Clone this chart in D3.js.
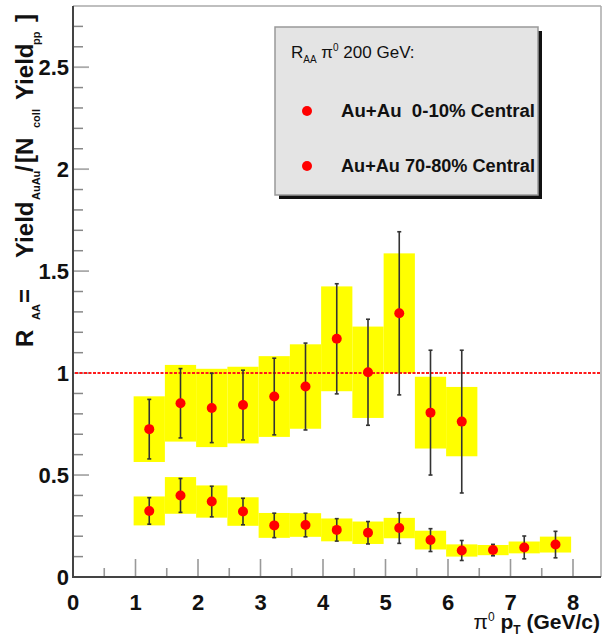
<!DOCTYPE html>
<html>
<head>
<meta charset="utf-8">
<script src="https://cdn.jsdelivr.net/npm/d3@7"></script>
<style>
  html, body { margin: 0; padding: 0; background: #fff; }
  svg { display: block; }
  text { font-family: "Liberation Sans", Arial, Helvetica, sans-serif; white-space: pre; }
</style>
</head>
<body>
<svg id="chart" width="603" height="639"></svg>
<script>
// pi0 nuclear modification factor, Au+Au at 200 GeV
const ptCentral   = [1.22, 1.72, 2.22, 2.72, 3.22, 3.72, 4.22, 4.72, 5.22, 5.72, 6.22];
const raaCentral  = [0.725, 0.852, 0.829, 0.843, 0.885, 0.934, 1.168, 1.004, 1.293, 0.806, 0.762];
const statCentral = [0.146, 0.170, 0.170, 0.171, 0.188, 0.213, 0.270, 0.260, 0.400, 0.306, 0.350];
const sysCentral  = [0.161, 0.188, 0.192, 0.188, 0.198, 0.207, 0.257, 0.224, 0.294, 0.176, 0.170];

const ptPeripheral   = [1.22, 1.72, 2.22, 2.72, 3.22, 3.72, 4.22, 4.72, 5.22, 5.72, 6.22, 6.72, 7.22, 7.72];
const raaPeripheral  = [0.324, 0.400, 0.370, 0.321, 0.253, 0.255, 0.231, 0.217, 0.240, 0.181, 0.130, 0.132, 0.145, 0.159];
const statPeripheral = [0.065, 0.083, 0.075, 0.065, 0.060, 0.058, 0.055, 0.055, 0.075, 0.056, 0.049, 0.028, 0.056, 0.065];
const sysPeripheral  = [0.071, 0.090, 0.079, 0.070, 0.061, 0.058, 0.056, 0.055, 0.050, 0.046, 0.030, 0.025, 0.029, 0.039];

const binWidth = 0.5;

const xTickValues = [0, 1, 2, 3, 4, 5, 6, 7, 8];
const yTickValues = [0, 0.5, 1, 1.5, 2, 2.5];
const legendEntries = ["Au+Au  0-10% Central", "Au+Au 70-80% Central"];

const svg = d3.select("#chart");

const x = d3.scaleLinear().domain([0, 8]).range([73, 573]);
const y = d3.scaleLinear().domain([0, 2.8]).range([577, 6]);
const frameRight = 601;

// frame: light top/right edges
svg.append("line").attr("x1", x(0)).attr("x2", frameRight).attr("y1", y(2.8)).attr("y2", y(2.8))
  .attr("stroke", "#aaa").attr("stroke-width", 1.5);
svg.append("line").attr("x1", frameRight).attr("x2", frameRight).attr("y1", y(2.8)).attr("y2", y(0))
  .attr("stroke", "#aaa").attr("stroke-width", 1.5);

const series = [
  { pt: ptCentral, raa: raaCentral, stat: statCentral, sys: sysCentral },
  { pt: ptPeripheral, raa: raaPeripheral, stat: statPeripheral, sys: sysPeripheral }
];

// systematic uncertainty boxes
series.forEach(s => {
  svg.append("g").selectAll("rect").data(s.pt).join("rect")
    .attr("x", (d) => x(d - binWidth / 2))
    .attr("width", (d) => x(d + binWidth / 2) - x(d - binWidth / 2))
    .attr("y", (d, i) => y(s.raa[i] + s.sys[i]))
    .attr("height", (d, i) => y(s.raa[i] - s.sys[i]) - y(s.raa[i] + s.sys[i]))
    .attr("fill", "#ffff00");
});

// axes ticks
const xAxis = svg.append("g");
const xMinor = d3.range(0, 8.01, 0.5).filter(v => !xTickValues.includes(v));
xAxis.selectAll("line.major").data(xTickValues).join("line").attr("class", "major")
  .attr("x1", d => x(d)).attr("x2", d => x(d)).attr("y1", y(0)).attr("y2", y(0) - 18)
  .attr("stroke", "#999").attr("stroke-width", 1.6);
xAxis.selectAll("line.minor").data(xMinor).join("line").attr("class", "minor")
  .attr("x1", d => x(d)).attr("x2", d => x(d)).attr("y1", y(0)).attr("y2", y(0) - 9)
  .attr("stroke", "#999").attr("stroke-width", 1.6);
xAxis.selectAll("text").data(xTickValues).join("text")
  .attr("x", d => x(d)).attr("y", 610).attr("text-anchor", "middle")
  .attr("font-size", 22).attr("font-weight", "bold").attr("fill", "#111")
  .text(d => d3.format("d")(d));

const yAxis = svg.append("g");
const yMinor = d3.range(0, 2.75, 0.1).map(v => +v.toFixed(1)).filter(v => !yTickValues.includes(v));
yAxis.selectAll("line.major").data(yTickValues).join("line").attr("class", "major")
  .attr("x1", x(0)).attr("x2", x(0) + 16).attr("y1", d => y(d)).attr("y2", d => y(d))
  .attr("stroke", "#aaa").attr("stroke-width", 1.8);
yAxis.selectAll("line.minor").data(yMinor).join("line").attr("class", "minor")
  .attr("x1", x(0)).attr("x2", x(0) + 10).attr("y1", d => y(d)).attr("y2", d => y(d))
  .attr("stroke", "#888").attr("stroke-width", 1.5);
yAxis.selectAll("text").data(yTickValues).join("text")
  .attr("x", 69).attr("y", d => y(d)).attr("dy", "0.36em").attr("text-anchor", "end")
  .attr("font-size", 22).attr("font-weight", "bold").attr("fill", "#111")
  .text(d => d === 0 ? "0" : d3.format("~g")(d));

// R_AA = 1 reference
svg.append("line").attr("x1", x(0) + 2).attr("x2", frameRight).attr("y1", y(1)).attr("y2", y(1))
  .attr("stroke", "#ff1a1a").attr("stroke-width", 2).attr("stroke-dasharray", "3,1.5");

// statistical error bars and points
series.forEach(s => {
  const g = svg.append("g");
  s.pt.forEach((p, i) => {
    const cx = x(p), y1 = y(s.raa[i] + s.stat[i]), y2 = y(s.raa[i] - s.stat[i]);
    g.append("line").attr("x1", cx).attr("x2", cx).attr("y1", y1).attr("y2", y2)
      .attr("stroke", "#333").attr("stroke-width", 1.6);
    [y1, y2].forEach(yy => g.append("line").attr("x1", cx - 2).attr("x2", cx + 2).attr("y1", yy).attr("y2", yy)
      .attr("stroke", "#333").attr("stroke-width", 1.6));
  });
  g.selectAll("circle").data(s.pt).join("circle")
    .attr("cx", d => x(d)).attr("cy", (d, i) => y(s.raa[i])).attr("r", 5)
    .attr("fill", "#ff0000");
});

// axis lines
svg.append("line").attr("x1", x(0)).attr("x2", frameRight).attr("y1", y(0)).attr("y2", y(0))
  .attr("stroke", "#444").attr("stroke-width", 2);
svg.append("line").attr("x1", x(0)).attr("x2", x(0)).attr("y1", y(0) + 1).attr("y2", y(2.8))
  .attr("stroke", "#444").attr("stroke-width", 2);

// x title
const xt = svg.append("text").attr("x", 600).attr("y", 629).attr("text-anchor", "end")
  .attr("font-size", 21).attr("font-weight", "bold").attr("fill", "#111");
xt.append("tspan").attr("font-weight", "normal").text("π");
xt.append("tspan").attr("font-size", 12).attr("font-weight", "normal").attr("dy", -8).text("0");
xt.append("tspan").attr("dy", 8).text(" p");
xt.append("tspan").attr("font-size", 12).attr("dy", 5).text("T");
xt.append("tspan").attr("dy", -5).text(" (GeV/c)");

// y title: pieces laid out along the rotated baseline (offset, text, subscript?)
const yTitleParts = [
  [0, "R", false], [27, "AA", true], [44, "=", false], [89, "Yield", false],
  [147, "AuAu", true], [175, "/", false], [184, "[", false], [192, "N", false],
  [219, "coll", true], [247, "Yield", false], [302, "pp", true], [325, "]", false]
];
const yt = svg.append("g").attr("transform", "translate(33,347) rotate(-90)");
yt.selectAll("text").data(yTitleParts).join("text")
  .attr("x", d => d[0]).attr("y", d => d[2] ? 7 : 0)
  .attr("font-size", d => d[2] ? 11 : 24).attr("font-weight", "bold").attr("fill", "#111")
  .text(d => d[1]);

// legend
const lg = svg.append("g");
lg.append("rect").attr("x", 279).attr("y", 31).attr("width", 263).attr("height", 168).attr("fill", "#111");
lg.append("rect").attr("x", 275).attr("y", 27).attr("width", 263).attr("height", 168)
  .attr("fill", "#e4e4e4").attr("stroke", "#999").attr("stroke-width", 1.5);
const lh = lg.append("text").attr("x", 291).attr("y", 58).attr("font-size", 17).attr("fill", "#111");
lh.append("tspan").text("R");
lh.append("tspan").attr("font-size", 10).attr("dy", 5).text("AA");
lh.append("tspan").attr("dy", -5).text(" π");
lh.append("tspan").attr("font-size", 10).attr("dy", -7).text("0");
lh.append("tspan").attr("dy", 7).text(" 200 GeV:");
legendEntries.forEach((t, i) => {
  const ly = 111 + i * 55;
  lg.append("circle").attr("cx", 307).attr("cy", ly).attr("r", 5).attr("fill", "#ff0000");
  lg.append("text").attr("x", 341).attr("y", ly).attr("dy", "0.36em")
    .attr("font-size", 18).attr("font-weight", "bold").attr("fill", "#111")
    .attr("textLength", 194).attr("lengthAdjust", "spacingAndGlyphs").text(t);
});
</script>
</body>
</html>
